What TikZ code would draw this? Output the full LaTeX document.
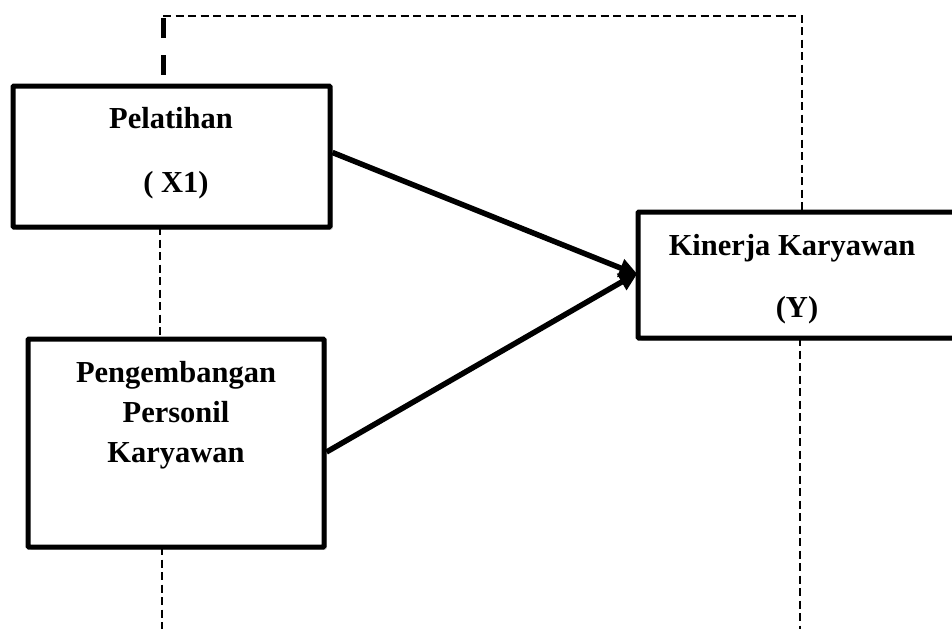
\documentclass[tikz,border=0pt]{standalone}
\usepackage{fontspec}
\setmainfont{Liberation Serif}
\usetikzlibrary{arrows.meta,shadows}
\begin{document}
\begin{tikzpicture}[x=1pt,y=-1pt,
  varbox/.style={draw=black,line width=5pt,fill=white,rounded corners=1pt,
    drop shadow={shadow xshift=2.5pt,shadow yshift=-2.5pt,opacity=0.22,fill=black},
    inner sep=0pt},
  lbl/.style={font=\fontsize{30.5}{36}\selectfont\bfseries,inner sep=0pt,anchor=base},
  thindash/.style={line width=1.8pt,dash pattern=on 8pt off 4.5pt},
  thickdash/.style={line width=5pt,dash pattern=on 20pt off 17pt},
  arr/.style={line width=5.5pt,-{Triangle[length=19pt,width=18pt]},shorten >=-3pt}
]
\useasboundingbox (0,0) rectangle (952,629);
\clip (0,0) rectangle (952,629);
% dashed lines
\coordinate (tl) at (163,16);
\coordinate (tr) at (802,16);
\coordinate (tk) at (163,18);
\coordinate (tkb) at (163,82);
\draw[thindash] (tl) -- (tr) -- (802,212);
\draw[thickdash] (tk) -- (tkb);
\coordinate (m1) at (160,227);
\coordinate (m2) at (160,339);
\draw[thindash] (m1) -- (m2);
\coordinate (b2s) at (162,547);
\coordinate (b2e) at (162,629);
\draw[thindash] (b2s) -- (b2e);
\coordinate (ys) at (800,338);
\coordinate (ye) at (800,629);
\draw[thindash] (ys) -- (ye);
% boxes
\node[varbox,minimum width=317pt,minimum height=141pt] (b1) at (171.5,156.5) {};
\node[varbox,minimum width=296pt,minimum height=208pt] (b2) at (176,443) {};
\node[varbox,minimum width=330pt,minimum height=126pt] (by) at (803,275) {};
% labels
\node[lbl] (t1a) at (171,128) {Pelatihan};
\node[lbl] (t1b) at (176,192) {( X1)};
\node[lbl] (t2a) at (176,382) {Pengembangan};
\node[lbl] (t2b) at (176,422) {Personil};
\node[lbl] (t2c) at (176,462) {Karyawan};
\node[lbl] (tya) at (792,255) {Kinerja Karyawan};
\node[lbl] (tyb) at (797,317) {(Y)};
% arrows
\coordinate (yin) at ([yshift=1pt]by.west);
\draw[arr] ([yshift=4pt]b1.east) -- (yin);
\draw[arr] ([yshift=-9pt]b2.east) -- (yin);
\end{tikzpicture}
\end{document}
